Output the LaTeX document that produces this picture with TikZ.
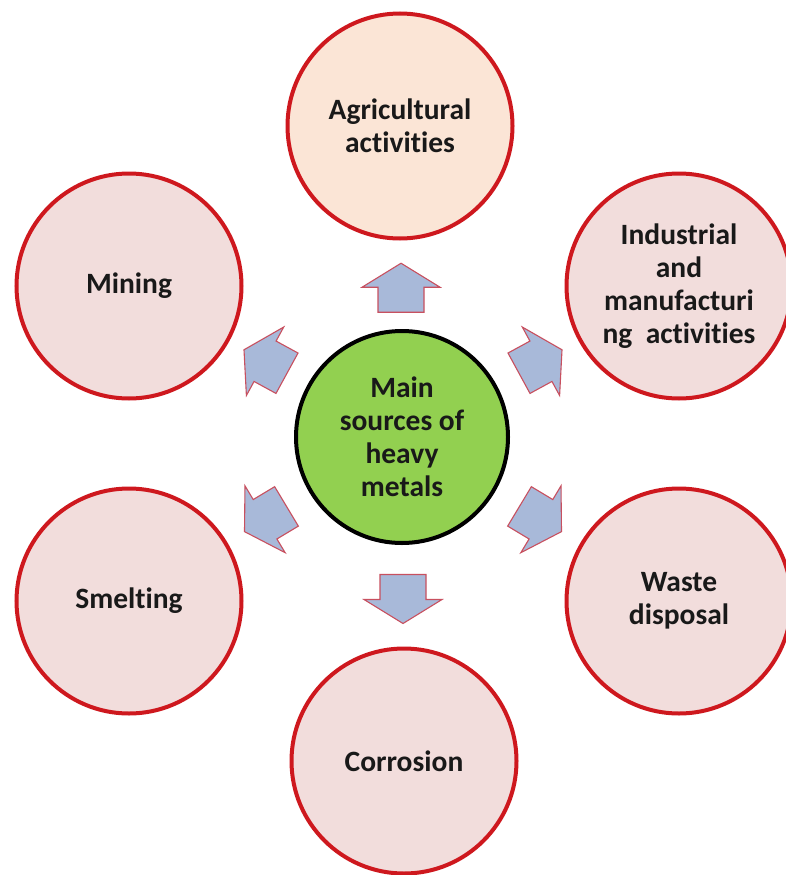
\documentclass[tikz,border=0pt]{standalone}
\usepackage{fontspec}
\setmainfont{Carlito}[Ligatures=NoCommon]
\usetikzlibrary{calc}

\definecolor{ringred}{RGB}{206,24,30}
\definecolor{petal}{RGB}{242,221,220}
\definecolor{peach}{RGB}{251,229,214}
\definecolor{hubgreen}{RGB}{146,208,80}
\definecolor{arrowfill}{RGB}{168,185,217}
\definecolor{arrowedge}{RGB}{200,80,95}

\begin{document}
\begin{tikzpicture}[x=1pt,y=-1pt,
  every node/.style={font=\fontsize{29.5}{33}\selectfont\bfseries, text=black!90, align=center},
  source/.style={circle, draw=ringred, line width=4pt, fill=petal, minimum size=225pt, inner sep=0pt},
  hub/.style={circle, draw=black, line width=4pt, fill=hubgreen, minimum size=212pt, inner sep=0pt},
  flowarrow/.pic={
    \draw[draw=arrowedge, line width=1.1pt, fill=arrowfill, line join=miter]
      (-24.5,-23) -- (0.5,-23) -- (0.5,-39) -- (24.5,0) -- (0.5,39) -- (0.5,23) -- (-24.5,23) -- cycle;
  }
]
\useasboundingbox (0,0) rectangle (786,875);

% central hub and the six sources
\node[hub] (hub) at (402,437) {Main\\sources of\\heavy\\metals};
\node[source, fill=peach] (agri) at (400,126) {Agricultural\\activities};
\node[source] (mining) at (129,286) {Mining};
\node[source] (industry) at (679,286) {Industrial\\and\\manufacturi\\ng~~activities};
\node[source] (smelt) at (129,601) {Smelting};
\node[source] (waste) at (679,601) {Waste\\disposal};
\node[source] (corr) at (404,761) {Corrosion};

% block arrows pointing from the hub to each source
\path ($(hub)!0.48!(agri)$) pic[rotate=90] {flowarrow};
\path ($(hub)!0.5!(industry)$) pic[rotate=28.6] {flowarrow};
\path ($(hub)!0.5!(mining)$) pic[rotate=151.4] {flowarrow};
\path ($(hub)!0.5!(smelt)$) pic[rotate=211] {flowarrow};
\path ($(hub)!0.5!(waste)$) pic[rotate=329] {flowarrow};
\path ($(hub)!0.5!(corr)$) pic[rotate=270] {flowarrow};
\end{tikzpicture}
\end{document}
